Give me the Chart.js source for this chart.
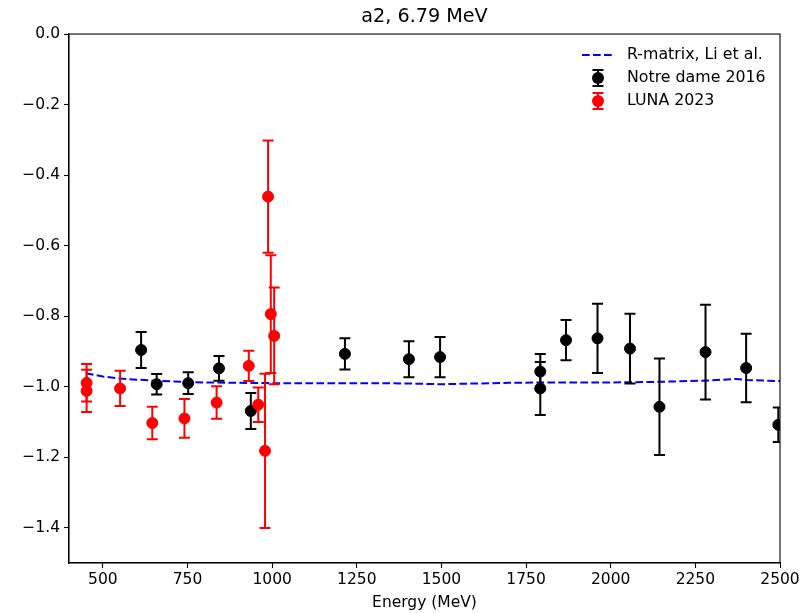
<!DOCTYPE html>
<html>
<head>
<meta charset="utf-8">
<script src="https://cdn.jsdelivr.net/npm/chart.js@4/dist/chart.umd.min.js"></script>
<style>
  html, body { margin: 0; padding: 0; background: #ffffff; }
  canvas { display: block; }
</style>
</head>
<body>
<canvas id="c" width="805" height="613"></canvas>
<script>
const chartTitle = 'a2, 6.79 MeV';
const xAxisLabel = 'Energy (MeV)';
const xTicks = [500, 750, 1000, 1250, 1500, 1750, 2000, 2250, 2500];
const yTicks = [0, -0.2, -0.4, -0.6, -0.8, -1.0, -1.2, -1.4];

const rmatrixLabel = 'R-matrix, Li et al.';
const rmatrixEnergy = [450, 500, 550, 600, 650, 700, 750, 800, 900, 1000, 1100, 1200, 1300, 1400, 1500, 1600, 1700, 1800, 1900, 2000, 2100, 2200, 2300, 2370, 2400, 2500];
const rmatrixA2 = [-0.962, -0.971, -0.977, -0.980, -0.983, -0.985, -0.987, -0.988, -0.989, -0.990, -0.990, -0.990, -0.990, -0.991, -0.993, -0.991, -0.989, -0.988, -0.988, -0.988, -0.987, -0.985, -0.982, -0.978, -0.981, -0.984];

const ndLabel = 'Notre dame 2016';
const ndEnergy = [613, 659, 752, 843, 937, 1215, 1404, 1496, 1792, 1792, 1868, 1961, 2057, 2144, 2280, 2400, 2495];
const ndA2 = [-0.896, -0.993, -0.990, -0.948, -1.069, -0.907, -0.922, -0.916, -0.957, -1.005, -0.868, -0.863, -0.892, -1.057, -0.902, -0.947, -1.108];
const ndErr = [0.051, 0.029, 0.031, 0.035, 0.051, 0.044, 0.051, 0.057, 0.050, 0.075, 0.057, 0.098, 0.099, 0.137, 0.134, 0.097, 0.049];

const lunaLabel = 'LUNA 2023';
const lunaEnergy = [452, 452, 551, 646, 741, 836, 931, 959, 979, 988, 996, 1006];
const lunaA2 = [-0.989, -1.012, -1.005, -1.103, -1.090, -1.045, -0.941, -1.051, -1.182, -0.461, -0.794, -0.856];
const lunaErr = [0.053, 0.060, 0.050, 0.046, 0.055, 0.046, 0.043, 0.049, 0.219, 0.159, 0.167, 0.137];

const FONT = "'DejaVu Sans', 'Liberation Sans', sans-serif";
const TICK_SIZE = 15.5;
const LEGEND_SIZE = 15.8;
const TITLE_SIZE = 19.2;
const LW = 2;
const CAP = 5.5;
const DASH = [7.7, 3.3];

function pts(xs, ys) { return xs.map((x, i) => ({ x: x, y: ys[i] })); }

const errorBarPlugin = {
  id: 'errorBars',
  beforeDatasetDraw(chart, args) {
    const ds = chart.data.datasets[args.index];
    if (!ds.errorBars) return;
    const meta = args.meta;
    const ys = chart.scales.y;
    const area = chart.chartArea;
    const ctx = chart.ctx;
    ctx.save();
    ctx.beginPath();
    ctx.rect(area.left, area.top, area.right - area.left, area.bottom - area.top);
    ctx.clip();
    ctx.strokeStyle = ds.borderColor;
    ctx.lineWidth = LW;
    ctx.lineCap = 'butt';
    meta.data.forEach((el, i) => {
      const v = ds.data[i].y;
      const e = ds.errorBars[i];
      const x = el.x;
      const yTop = ys.getPixelForValue(v + e);
      const yBot = ys.getPixelForValue(v - e);
      ctx.beginPath();
      ctx.moveTo(x, yTop); ctx.lineTo(x, yBot);
      ctx.moveTo(x - CAP, yTop); ctx.lineTo(x + CAP, yTop);
      ctx.moveTo(x - CAP, yBot); ctx.lineTo(x + CAP, yBot);
      ctx.stroke();
    });
    ctx.restore();
  }
};

const framePlugin = {
  id: 'frame',
  afterDatasetsDraw(chart) {
    const a = chart.chartArea;
    const ctx = chart.ctx;
    ctx.save();
    ctx.strokeStyle = '#000';
    ctx.lineWidth = 1.1;
    ctx.strokeRect(a.left, a.top, a.right - a.left, a.bottom - a.top);
    ctx.restore();
  }
};

const legendPlugin = {
  id: 'customLegend',
  afterDraw(chart) {
    const ctx = chart.ctx;
    const a = chart.chartArea;
    const x0 = a.right - 198;
    const y0 = a.top + 21;
    const rowH = 23;
    ctx.save();
    ctx.font = LEGEND_SIZE + 'px ' + FONT;
    ctx.textBaseline = 'middle';
    ctx.textAlign = 'left';
    chart.data.datasets.forEach((ds, i) => {
      const y = y0 + i * rowH;
      const cx = x0 + 16;
      if (ds.type === 'line') {
        ctx.strokeStyle = ds.borderColor;
        ctx.lineWidth = LW;
        ctx.setLineDash(DASH);
        ctx.beginPath();
        ctx.moveTo(x0, y); ctx.lineTo(x0 + 32, y);
        ctx.stroke();
        ctx.setLineDash([]);
      } else {
        ctx.strokeStyle = ds.borderColor;
        ctx.lineWidth = LW;
        ctx.beginPath();
        ctx.moveTo(cx, y - 8); ctx.lineTo(cx, y + 8);
        ctx.moveTo(cx - CAP, y - 8); ctx.lineTo(cx + CAP, y - 8);
        ctx.moveTo(cx - CAP, y + 8); ctx.lineTo(cx + CAP, y + 8);
        ctx.stroke();
        ctx.fillStyle = ds.backgroundColor;
        ctx.beginPath();
        ctx.arc(cx, y, 6, 0, Math.PI * 2);
        ctx.fill();
      }
      ctx.fillStyle = '#000';
      ctx.fillText(ds.label, x0 + 45, y);
    });
    ctx.restore();
  }
};

const fmt = v => (Math.abs(v) < 1e-9 ? '0.0' : v.toFixed(1).replace('-', '\u2212'));

new Chart(document.getElementById('c'), {
  data: {
    datasets: [
      {
        type: 'line', label: rmatrixLabel, data: pts(rmatrixEnergy, rmatrixA2),
        borderColor: '#0000ff', backgroundColor: '#0000ff', borderWidth: LW,
        borderDash: DASH, pointRadius: 0, tension: 0, fill: false, order: 3
      },
      {
        type: 'scatter', label: ndLabel, data: pts(ndEnergy, ndA2), errorBars: ndErr,
        borderColor: '#000000', backgroundColor: '#000000', pointRadius: 5.5,
        pointBorderWidth: 1, pointHoverRadius: 5.5, order: 2
      },
      {
        type: 'scatter', label: lunaLabel, data: pts(lunaEnergy, lunaA2), errorBars: lunaErr,
        borderColor: '#ff0000', backgroundColor: '#ff0000', pointRadius: 5.5,
        pointBorderWidth: 1, pointHoverRadius: 5.5, order: 1
      }
    ]
  },
  options: {
    responsive: false,
    animation: false,
    events: [],
    layout: { padding: { left: 0, right: 25, top: 0, bottom: 0 } },
    font: { family: FONT },
    plugins: {
      legend: { display: false },
      tooltip: { enabled: false },
      title: {
        display: true, text: chartTitle, fullSize: false, color: '#000',
        font: { family: FONT, size: TITLE_SIZE, weight: 'normal' },
        padding: { top: 5.5, bottom: 5.5 }
      }
    },
    scales: {
      x: {
        type: 'linear', position: 'bottom', min: 400, max: 2500,
        afterBuildTicks: s => { s.ticks = xTicks.map(v => ({ value: v })); },
        afterFit: s => { s.height = 50; },
        grid: { drawOnChartArea: false, drawTicks: true, tickLength: 5, tickColor: '#000', color: '#000', tickWidth: 1.1 },
        border: { display: true, color: '#000', width: 1.1 },
        ticks: { color: '#000', padding: 3, maxRotation: 0, autoSkip: false, font: { family: FONT, size: TICK_SIZE }, callback: v => String(v) },
        title: { display: true, text: xAxisLabel, color: '#000', font: { family: FONT, size: TICK_SIZE }, padding: { top: 2, bottom: 1 } }
      },
      y: {
        type: 'linear', position: 'left', min: -1.5, max: 0,
        afterBuildTicks: s => { s.ticks = yTicks.map(v => ({ value: v })); },
        afterFit: s => { s.width = 69; },
        grid: { drawOnChartArea: false, drawTicks: true, tickLength: 5, tickColor: '#000', color: '#000', tickWidth: 1.1 },
        border: { display: true, color: '#000', width: 1.1 },
        ticks: { color: '#000', padding: 4, autoSkip: false, font: { family: FONT, size: TICK_SIZE }, callback: v => fmt(v) }
      }
    }
  },
  plugins: [errorBarPlugin, framePlugin, legendPlugin]
});
</script>
</body>
</html>
